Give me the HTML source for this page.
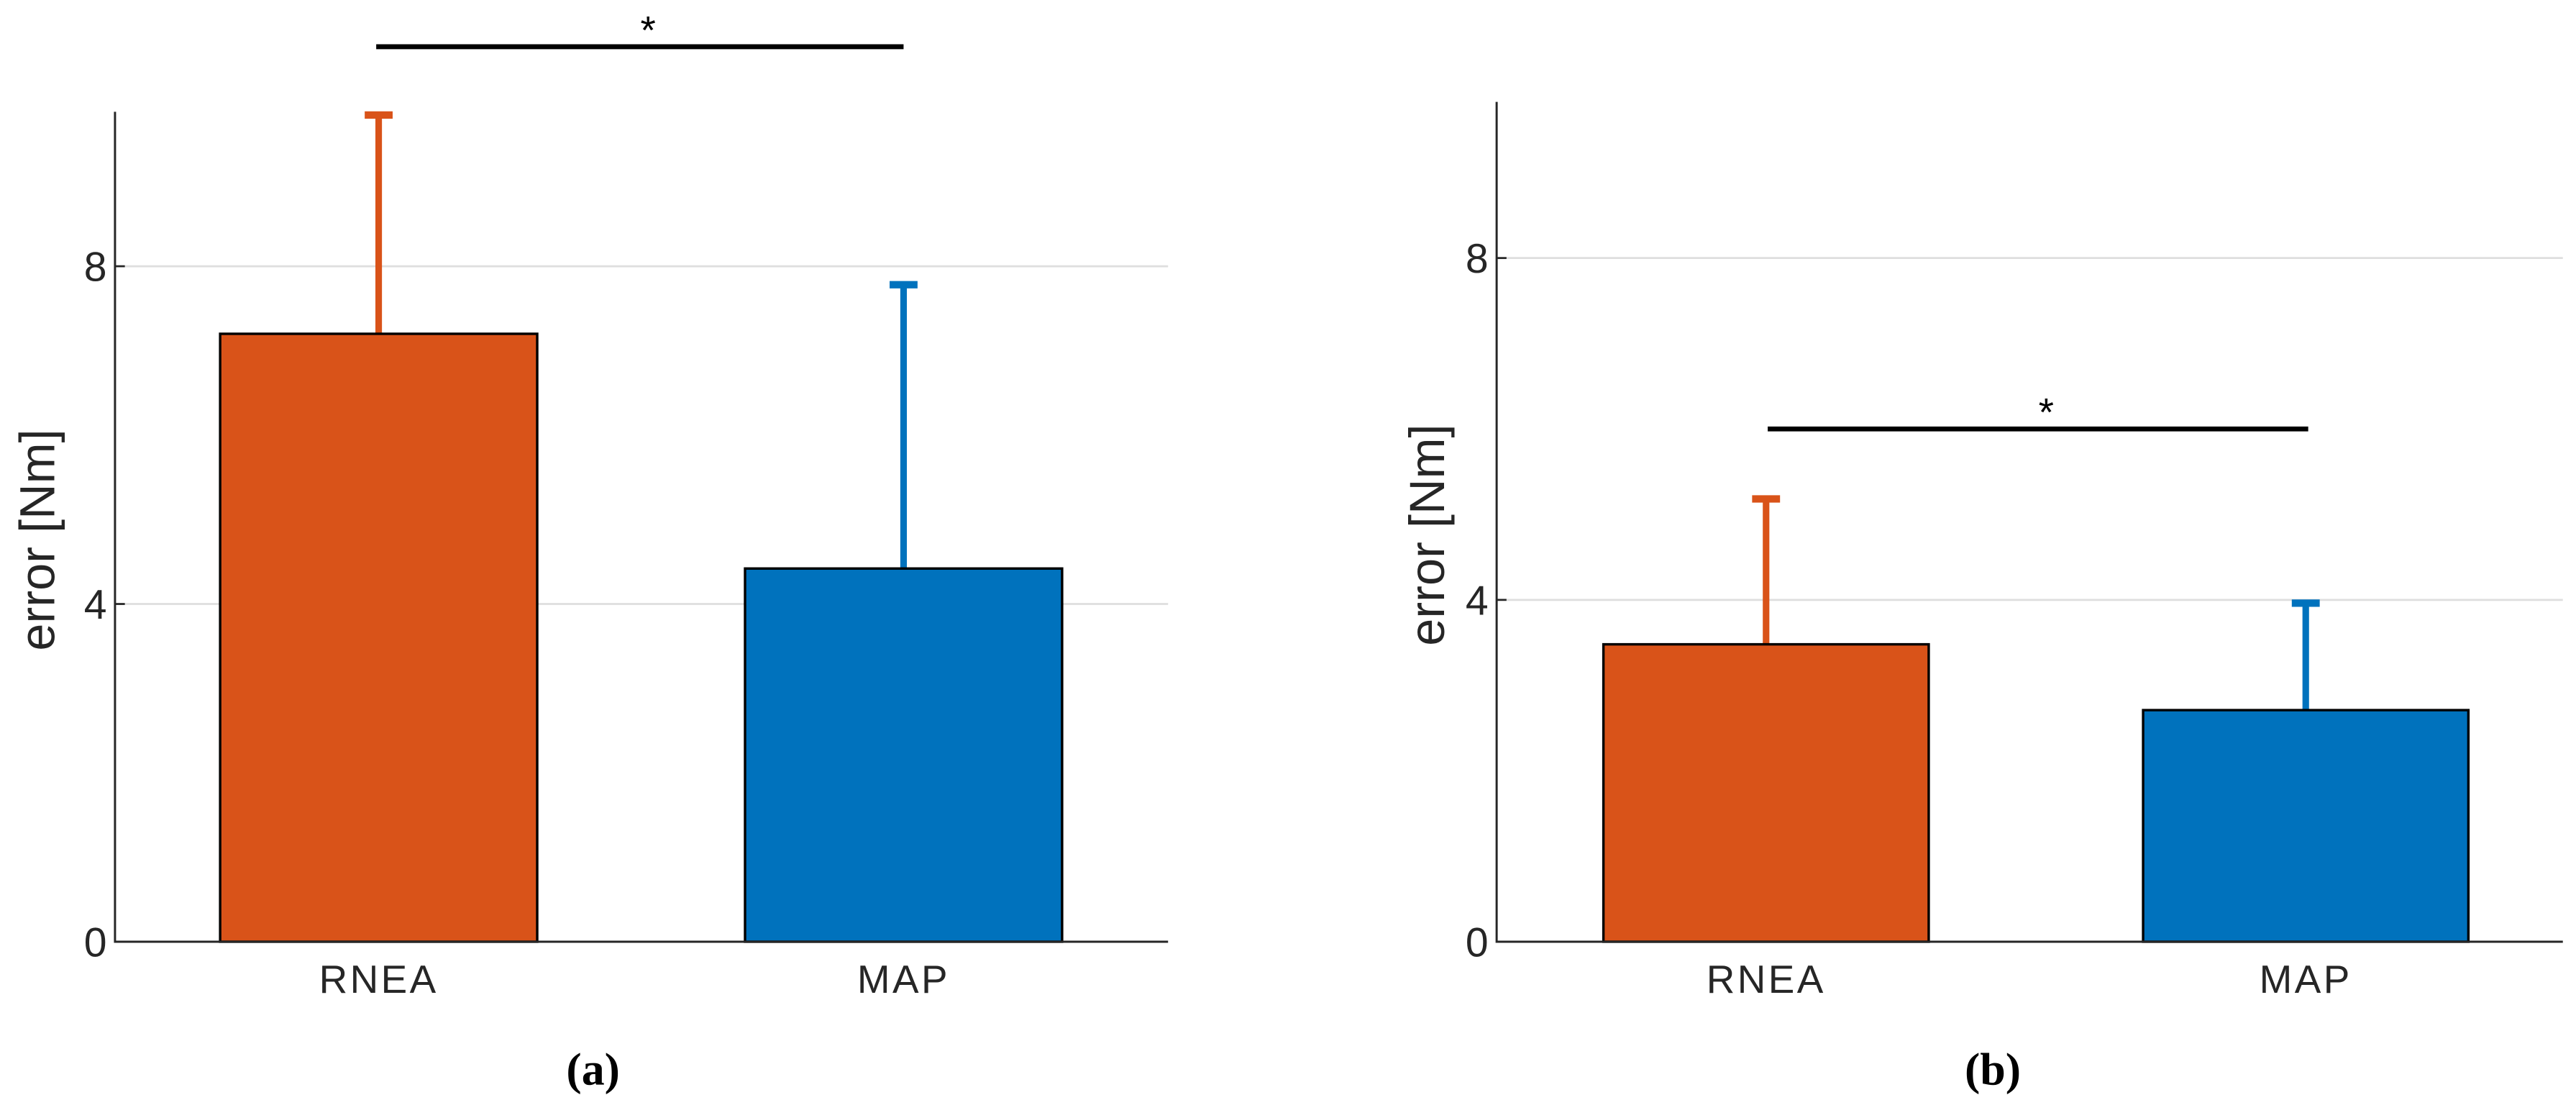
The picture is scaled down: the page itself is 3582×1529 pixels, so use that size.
<!DOCTYPE html>
<html><head><meta charset="utf-8"><style>
html,body{margin:0;padding:0;background:#fff;}
svg{display:block;}
text{font-family:"Liberation Sans",sans-serif;fill:#262626;}
</style></head><body>
<svg id="fig" width="3582" height="1529" viewBox="0 0 1568 669.3" xmlns="http://www.w3.org/2000/svg"></svg>
<script>
const categories = ["RNEA", "MAP"];
const meansA = [7.2, 4.42];
const errA = [9.83, 7.82];
const meansB = [3.48, 2.71];
const errB = [5.22, 4.0];
const yTicks = [0, 4, 8];
const sigA = 10.6;
const sigB = 6.0;
const colors = ["#D95319", "#0072BD"];
const NS = "http://www.w3.org/2000/svg";
const svg = document.getElementById('fig');
function mk(tag, attrs, parent) {
  const e = document.createElementNS(NS, tag);
  for (const k in attrs) e.setAttribute(k, attrs[k]);
  (parent || svg).appendChild(e);
  return e;
}
function panel(cfg, means, errs, sig, letter) {
  const g = mk('g', {});
  
  
  const y = v => cfg.y0 - (cfg.y0 - cfg.y8) / 8 * v;
  const x = i => cfg.centers[i];
  yTicks.forEach(t => {
    if (t > 0) {
      const gl = mk('line', {x1: cfg.x0, x2: cfg.x1, y1: y(t), y2: y(t), stroke: '#dedede', 'stroke-width': 1.2}, g);
      
      
    }
    const tk = mk('line', {x1: cfg.x0, x2: cfg.x0 + 6, y1: y(t), y2: y(t), stroke: '#262626', 'stroke-width': 1.2}, g);
    
    
    const tl = mk('text', {x: cfg.x0 - 5, y: y(t) + 9, 'text-anchor': 'end', 'font-size': 25}, g);
    tl.textContent = t;
    
    
  });
  means.forEach((m, i) => {
    const eb = mk('line', {x1: x(i), x2: x(i), y1: y(m), y2: y(errs[i]), stroke: colors[i], 'stroke-width': 4}, g);
    
    
    const cap = mk('line', {x1: x(i) - 8.5, x2: x(i) + 8.5, y1: y(errs[i]) + 2, y2: y(errs[i]) + 2, stroke: colors[i], 'stroke-width': 4.5}, g);
    
    
    const r = mk('rect', {x: x(i) - cfg.bw / 2, y: y(m), width: cfg.bw, height: y(0) - y(m), fill: colors[i], stroke: '#000', 'stroke-width': 1.5}, g);
    
    
    const xl = mk('text', {x: x(i), y: cfg.y0 + 31, 'text-anchor': 'middle', 'font-size': 24, 'letter-spacing': 1.5}, g);
    xl.textContent = categories[i];
    
    
  });
  const ax = mk('path', {d: `M${cfg.x0} ${cfg.yTop} V${cfg.y0} H${cfg.x1}`, fill: 'none', stroke: '#262626', 'stroke-width': 1.3}, g);
  
  
  const sl = mk('line', {x1: cfg.sx1, x2: cfg.sx2, y1: y(sig), y2: y(sig), stroke: '#000', 'stroke-width': 3}, g);
  
  
  const st = mk('text', {x: (cfg.sx1 + cfg.sx2) / 2 + 5, y: y(sig) - 2, 'text-anchor': 'middle', 'font-size': 24, style: 'fill:#000'}, g);
  st.textContent = '*';
  
  
  const yl = mk('text', {transform: `translate(${cfg.x0 - cfg.ylOff},${(cfg.y0 + cfg.yTop) / 2 + 8}) rotate(-90)`, 'text-anchor': 'middle', 'font-size': 30}, g);
  yl.textContent = 'error [Nm]';
  
  
  const cap = mk('text', {x: cfg.capX, y: 660, 'text-anchor': 'middle', 'font-size': 28, 'font-weight': 'bold', style: 'font-family:"Liberation Serif",serif;fill:#000'}, g);
  cap.textContent = '(' + letter + ')';
  
  
}
panel({x0: 70, x1: 711, y0: 573, y8: 162, yTop: 68, centers: [230.5, 550], bw: 193, sx1: 229, sx2: 550, capX: 361, ylOff: 37}, meansA, errA, sigA, 'a');
panel({x0: 911, x1: 1560, y0: 573, y8: 157, yTop: 62, centers: [1075, 1403.5], bw: 198, sx1: 1076, sx2: 1405, capX: 1213, ylOff: 32}, meansB, errB, sigB, 'b');
</script>
</body></html>
